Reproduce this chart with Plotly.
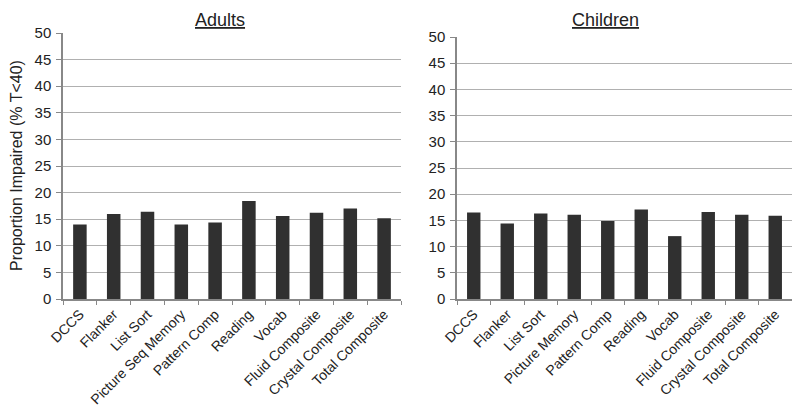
import plotly.graph_objects as go

adult_cats = ["DCCS", "Flanker", "List Sort", "Picture Seq Memory", "Pattern Comp",
              "Reading", "Vocab", "Fluid Composite", "Crystal Composite", "Total Composite"]
adult_vals = [14.0, 16.0, 16.4, 14.0, 14.4, 18.4, 15.6, 16.2, 17.0, 15.2]

child_cats = ["DCCS", "Flanker", "List Sort", "Picture Memory", "Pattern Comp",
              "Reading", "Vocab", "Fluid Composite", "Crystal Composite", "Total Composite"]
child_vals = [16.5, 14.4, 16.3, 16.1, 14.9, 17.1, 12.0, 16.6, 16.1, 15.9]

y_ticks = [0, 5, 10, 15, 20, 25, 30, 35, 40, 45, 50]

bar_color = "#303030"
fam = "Liberation Sans, Arial, sans-serif"
font = dict(family=fam, size=15, color="#222222")
xfont = dict(family=fam, size=14, color="#222222")

W, H, OFF = 792, 408, 8  # page body margin offset compensation

fig = go.Figure()
fig.add_trace(go.Bar(x=adult_cats, y=adult_vals, marker_color=bar_color,
                     marker_line_width=0, xaxis="x", yaxis="y", showlegend=False))
fig.add_trace(go.Bar(x=child_cats, y=child_vals, marker_color=bar_color,
                     marker_line_width=0, xaxis="x2", yaxis="y2", showlegend=False))

xcommon = dict(type="category", tickangle=-45, showline=True, linecolor="#888888",
               linewidth=1.5, ticks="outside", ticklen=4, tickcolor="#888888",
               tickson="boundaries", showgrid=False, tickfont=xfont, automargin=False)
ycommon = dict(range=[0, 50], tickvals=y_ticks, showline=True, linecolor="#888888",
               linewidth=1.5, ticks="outside", ticklen=5, tickcolor="#888888",
               showgrid=True, gridcolor="#b0b0b0", gridwidth=1.2, zeroline=False,
               tickfont=font, automargin=False, ticklabelstandoff=2)


def px(x):
    return (x - OFF) / W


def py(y):
    return (H - (y - OFF)) / H


fig.update_layout(
    width=W, height=H,
    margin=dict(l=0, r=0, t=0, b=0),
    paper_bgcolor="white", plot_bgcolor="white",
    bargap=0.6,
    font=font,
    xaxis=dict(domain=[px(63), px(401)], anchor="y", **xcommon),
    yaxis=dict(domain=[py(299), py(33)], anchor="x", **ycommon),
    xaxis2=dict(domain=[px(457), px(792)], anchor="y2", **xcommon),
    yaxis2=dict(domain=[py(299), py(37)], anchor="x2", **ycommon),
    annotations=[
        dict(text="<u>Adults</u>", x=px(220), y=py(8), xref="paper", yref="paper",
             showarrow=False, font=dict(family=fam, size=18, color="#222222"),
             xanchor="center", yanchor="top"),
        dict(text="<u>Children</u>", x=px(605), y=py(8), xref="paper", yref="paper",
             showarrow=False, font=dict(family=fam, size=18, color="#222222"),
             xanchor="center", yanchor="top"),
        dict(text="Proportion Impaired (% T<40)", x=px(17), y=py(166),
             xref="paper", yref="paper", showarrow=False, textangle=-90,
             font=dict(family=fam, size=16, color="#222222"),
             xanchor="center", yanchor="middle"),
    ],
)

fig.write_html("out.html")
